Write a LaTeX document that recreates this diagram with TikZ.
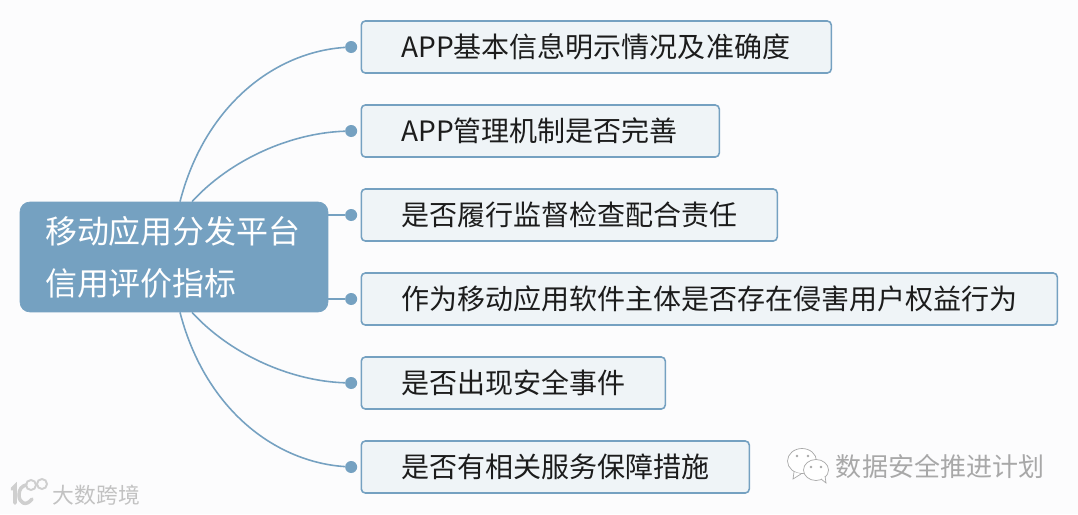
\documentclass[tikz,border=0pt]{standalone}
\usepackage{fontspec}
\usepackage{xcolor}
\setmainfont{Noto Sans CJK SC}
\usetikzlibrary{positioning}
\definecolor{linkblue}{HTML}{75A1C1}
\definecolor{itemfill}{HTML}{EFF4F7}
\definecolor{pagebg}{HTML}{FCFCFD}
\definecolor{itemtext}{HTML}{1C1C1C}
\definecolor{markgray}{HTML}{A8A8A8}
\tikzset{
  rootbox/.style={fill=linkblue,draw=linkblue,rounded corners=0.2cm,text=white,
    minimum width=6.16cm,minimum height=2.2cm,inner xsep=0.5cm,text width=5.16cm,
    align=left,font=\fontsize{18.2}{27.8}\selectfont},
  itembox/.style={fill=itemfill,draw=linkblue,line width=0.9pt,rounded corners=0.08cm,
    text=itemtext,minimum height=1.04cm,inner xsep=0.8cm,anchor=west,align=left,
    font=\fontsize{15.95}{20}\selectfont},
  linkdot/.style={circle,fill=linkblue,inner sep=0pt,minimum size=0.24cm},
  link/.style={draw=linkblue,line width=0.9pt},
  markline/.style={draw=markgray,line width=0.4pt,fill=white},
  logoline/.style={draw=markgray!55,line width=1.1pt},
}
\begin{document}
\begin{tikzpicture}[x=0.02cm,y=-0.02cm]
  \fill[pagebg] (0,0) rectangle (1078,514);
  \useasboundingbox (0,0) rectangle (1078,514);
  \node[rootbox] (root) at (174,257) {\vspace*{1.7pt}移动应用分发平台\\信用评价指标};
  \foreach \n/\y/\w/\t in {1/47/470/APP基本信息明示情况及准确度,
      2/131/358/APP管理机制是否完善,
      3/215/416/是否履行监督检查配合责任,
      4/299/696/作为移动应用软件主体是否存在侵害用户权益行为,
      5/383/304/是否出现安全事件,
      6/467/388/是否有相关服务保障措施} {
    \node[itembox,minimum width=\w*0.02cm,text width=(\w-80)*0.02cm] (item\n) at (360.5,\y) {\t};
    \node[linkdot,left=0.06cm of item\n] (dot\n) {};
  }
  % curved links leave the top and bottom of the root
  \draw[link] ([xshift=0.12cm]root.north) .. controls (205,105) and (275,52) .. (dot1);
  \draw[link] ([xshift=0.36cm]root.north) .. controls (230,160) and (290,133) .. (dot2);
  \draw[link] (root.east |- dot3) -- (dot3);
  \draw[link] (root.east |- dot4) -- (dot4);
  \draw[link] ([xshift=0.36cm]root.south) .. controls (230,354) and (290,381) .. (dot5);
  \draw[link] ([xshift=0.12cm]root.south) .. controls (205,409) and (275,462) .. (dot6);
  % watermarks
  \node[text=markgray,inner sep=0pt,font=\fontsize{14.8}{18}\selectfont] (wechatname) at (940,467) {数据安全推进计划};
  \node[text=markgray!70,inner sep=0pt,font=\fontsize{12.4}{15}\selectfont] (crossname) at (96.5,495) {大数跨境};
  \draw[markline] (802,461) ellipse [x radius=14.5,y radius=12.5];
  \draw[markline] (794,472) -- (793,479) -- (801,474);
  \draw[markline] (816,470) ellipse [x radius=12.5,y radius=10.5];
  \draw[markline] (821,479) -- (826,483) -- (825,476);
  \foreach \x/\y in {797/456,808/456,811/467,821/467} \fill[markgray] (\x,\y) circle (1.4);
  \draw[logoline,line width=2pt,line cap=round] (12,489) -- (15,486) -- (15,503);
  \draw[logoline,line width=2pt,line cap=round] (32,499) .. controls (26,507) and (19,503) .. (19,495) .. controls (19,489) and (22,486) .. (26,485);
  \draw[logoline] (31,485) circle (5);
  \draw[logoline] (42,484) circle (5);
\end{tikzpicture}
\end{document}
